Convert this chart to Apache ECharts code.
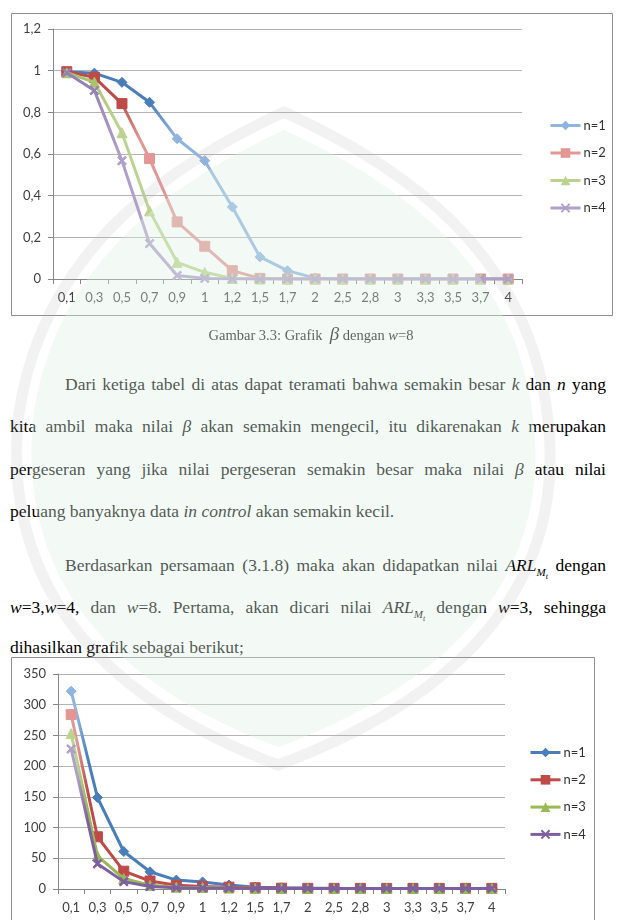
<!DOCTYPE html>
<html>
<head>
<meta charset="utf-8">
<script src="https://cdn.jsdelivr.net/npm/echarts@6/dist/echarts.min.js"></script>
<style>
  html, body { margin:0; padding:0; background:#fff; }
  body { width:617px; height:920px; position:relative; overflow:hidden; }
  #c1 { position:absolute; left:0; top:0; width:617px; height:330px; }
  #c2 { position:absolute; left:0; top:640px; width:617px; height:280px; }
  .ln { position:absolute; font-family:"Liberation Serif","Times New Roman",serif; font-size:17.5px; line-height:22px; color:#000; white-space:nowrap; }
  .jf { text-align:justify; text-align-last:justify; white-space:normal; }
  .cap { position:absolute; left:0; width:622px; top:323px; text-align:center; font-family:"Liberation Serif",serif; font-size:14.5px; line-height:22px; color:#111; }
  #wm { position:absolute; left:0; top:0; width:617px; height:920px; pointer-events:none; }
</style>
</head>
<body>
<div id="c1"></div>
<div class="cap">Gambar 3.3: Grafik &nbsp;<i style="font-size:19px">β</i> dengan <i>w</i>=8</div>

<div class="ln jf" style="left:65px; width:541px; top:373px;">Dari ketiga tabel di atas dapat teramati bahwa semakin besar <i>k</i> dan <i>n</i> yang</div>
<div class="ln jf" style="left:10px; width:596px; top:415px;">kita ambil maka nilai <i>β</i> akan semakin mengecil, itu dikarenakan <i>k</i> merupakan</div>
<div class="ln jf" style="left:10px; width:596px; top:458px;">pergeseran yang jika nilai pergeseran semakin besar maka nilai <i>β</i> atau nilai</div>
<div class="ln" style="left:10px; top:500px;">peluang banyaknya data <i>in control</i> akan semakin kecil.</div>
<div class="ln jf" style="left:65px; width:541px; top:554px;">Berdasarkan persamaan (3.1.8) maka akan didapatkan nilai <i>ARL</i><sub style="font-size:11px"><i>M<sub style="font-size:8px">t</sub></i></sub> dengan</div>
<div class="ln jf" style="left:10px; width:596px; top:596px;"><i>w</i>=3,<i>w</i>=4, dan <i>w</i>=8. Pertama, akan dicari nilai <i>ARL</i><sub style="font-size:11px"><i>M<sub style="font-size:8px">t</sub></i></sub> dengan <i>w</i>=3, sehingga</div>
<div class="ln" style="left:10px; top:636px;">dihasilkan grafik sebagai berikut;</div>

<div id="c2"></div>

<svg id="wm" width="617" height="920" viewBox="0 0 617 920">
  <path d="M284,112 C400,165 530,250 548,420 C565,570 480,690 278,765 C80,690 5,570 18,420 C40,250 170,165 284,112 Z"
        fill="none" stroke="rgba(175,175,175,0.16)" stroke-width="11"/>
  <path transform="translate(284,440) scale(0.945) translate(-284,-440)"
        d="M284,112 C400,165 530,250 548,420 C565,570 480,690 278,765 C80,690 5,570 18,420 C40,250 170,165 284,112 Z"
        fill="rgba(222,242,228,0.36)" stroke="none"/>
</svg>

<script>
// ---------- DATA ----------
const categories = ['0,1','0,3','0,5','0,7','0,9','1','1,2','1,5','1,7','2','2,5','2,8','3','3,3','3,5','3,7','4'];
const seriesNames = ['n=1','n=2','n=3','n=4'];

// Chart 1: beta with w=8
const beta_n1 = [0.995,0.988,0.944,0.848,0.673,0.568,0.346,0.106,0.040,0.004,0,0,0,0,0,0,0];
const beta_n2 = [0.995,0.968,0.842,0.578,0.274,0.157,0.040,0.003,0,0,0,0,0,0,0,0,0];
const beta_n3 = [0.990,0.945,0.702,0.327,0.080,0.032,0.003,0,0,0,0,0,0,0,0,0,0];
const beta_n4 = [0.990,0.905,0.568,0.170,0.017,0.003,0,0,0,0,0,0,0,0,0,0,0];
const yTicks1 = [0,0.2,0.4,0.6,0.8,1,1.2];

// Chart 2: ARL with w=3
const arl_n1 = [322,149,61,28,14.5,11.5,6.5,3,2,1.5,1.2,1,1,1,1,1,1];
const arl_n2 = [284,85,29,13,6,4,3,2,1.3,1.1,1,1,1,1,1,1,1];
const arl_n3 = [253,54,17,6,3,2.5,1.5,1.1,1,1,1,1,1,1,1,1,1];
const arl_n4 = [228,41,12,4,2,1.5,1.1,1,1,1,1,1,1,1,1,1,1];
const yTicks2 = [0,50,100,150,200,250,300,350];

// ---------- STYLE ----------
const darkCols  = ['#4A7EBB','#BE4B48','#98B954','#7D60A0'];
const lightCols = ['#8FB4E0','#E39795','#BCD38F','#AE9FCB'];
const crossPath = 'path://M0,1.4L1.4,0L5,3.6L8.6,0L10,1.4L6.4,5L10,8.6L8.6,10L5,6.4L1.4,10L0,8.6L3.6,5Z';
const symbols = ['diamond','rect','triangle',crossPath];
const symSizes = [10,10,10,9];
const fontAxis = 'Lato, "Open Sans", sans-serif';

function grad(dark, light, a, b, darkFirst) {
  return { type:'linear', x:0, y:0, x2:1, y2:0, colorStops: darkFirst ?
    [{offset:0,color:dark},{offset:a,color:dark},{offset:b,color:light},{offset:1,color:light}] :
    [{offset:0,color:light},{offset:a,color:light},{offset:b,color:dark},{offset:1,color:dark}] };
}

function makeSeries(values, i, colorFn, lineColor) {
  return {
    name: seriesNames[i], type:'line', data: values.map((v, k) => ({ value:v, itemStyle:{ color: colorFn(k), borderColor: colorFn(k) } })),
    symbol: symbols[i], symbolSize: symSizes[i], showAllSymbol:true,
    lineStyle:{ width:3, color: lineColor }, itemStyle:{ color: lightCols[i] },
    z: 2 + i, animation:false
  };
}

function baseOption(grid, yMax, yInt, labelFmt, legendPos, legendCols, frame) {
  return {
    animation:false,
    grid: grid,
    graphic: [{ type:'rect', shape: frame, style:{ fill:'none', stroke:'#8f8f8f', lineWidth:1 }, z:-1, silent:true }],
    legend: {
      orient:'vertical', left: legendPos.left, top: legendPos.top, itemWidth:30, itemHeight:12, itemGap: legendPos.gap,
      textStyle:{ fontFamily: fontAxis, fontSize:13, color:'#333', padding:[0,0,0,-2] },
      data: seriesNames.map((n, i) => ({ name:n, itemStyle:{ color: legendCols[i] }, lineStyle:{ color: legendCols[i], width:3 } }))
    },
    xAxis: {
      type:'category', data: categories, boundaryGap:true,
      axisLine:{ lineStyle:{ color:'#878787', width:1 } },
      axisTick:{ show:true, length:5, lineStyle:{ color:'#878787' } },
      axisLabel:{ fontFamily: fontAxis, fontSize:13, color:'#404040', margin:12, interval:0 }
    },
    yAxis: {
      type:'value', min:0, max:yMax, interval:yInt,
      axisLine:{ show:true, lineStyle:{ color:'#878787', width:1 } },
      axisTick:{ show:true, length:5, lineStyle:{ color:'#878787' } },
      splitLine:{ lineStyle:{ color:'#b4b4b4', width:1 } },
      axisLabel:{ fontFamily: fontAxis, fontSize:13, color:'#404040', margin:12, formatter: labelFmt }
    }
  };
}

// ---------- CHART 1 ----------
const c1 = echarts.init(document.getElementById('c1'), null, { renderer:'canvas' });
const opt1 = baseOption(
  { left:53, right:95, top:29, bottom:51 }, 1.2, 0.2,
  v => String(Math.round(v*10)/10).replace('.', ','),
  { left:544, top:114, gap:14.5 }, lightCols,
  { x:11.5, y:13.5, width:601, height:302 }
);
const thresh1 = [4, 3, 2, 2];
const grads1 = [
  grad(darkCols[0], lightCols[0], 0.19, 0.25, true),
  grad(darkCols[1], lightCols[1], 0.125, 0.17, true),
  grad('#A9C46F', lightCols[2], 0.06, 0.12, true),
  grad('#9480B6', lightCols[3], 0.06, 0.12, true)
];
const betaAll = [beta_n1, beta_n2, beta_n3, beta_n4];
const darkMid1 = [darkCols[0], darkCols[1], '#A9C46F', '#9480B6'];
opt1.series = betaAll.map((arr, i) => makeSeries(arr, i, k => k < thresh1[i] ? darkMid1[i] : lightCols[i], grads1[i]));
c1.setOption(opt1);

// ---------- CHART 2 ----------
const c2 = echarts.init(document.getElementById('c2'), null, { renderer:'canvas' });
const opt2 = baseOption(
  { left:58, right:112, top:34, bottom:31 }, 350, 50,
  v => String(v),
  { left:524, top:101, gap:14.3 }, darkCols,
  { x:11.5, y:17.5, width:583, height:300 }
);
const arlAll = [arl_n1, arl_n2, arl_n3, arl_n4];
opt2.series = arlAll.map((arr, i) => makeSeries(arr, i, k => k === 0 ? lightCols[i] : darkCols[i], grad(darkCols[i], lightCols[i], 0.02, 0.045, false)));
c2.setOption(opt2);
</script>
</body>
</html>
